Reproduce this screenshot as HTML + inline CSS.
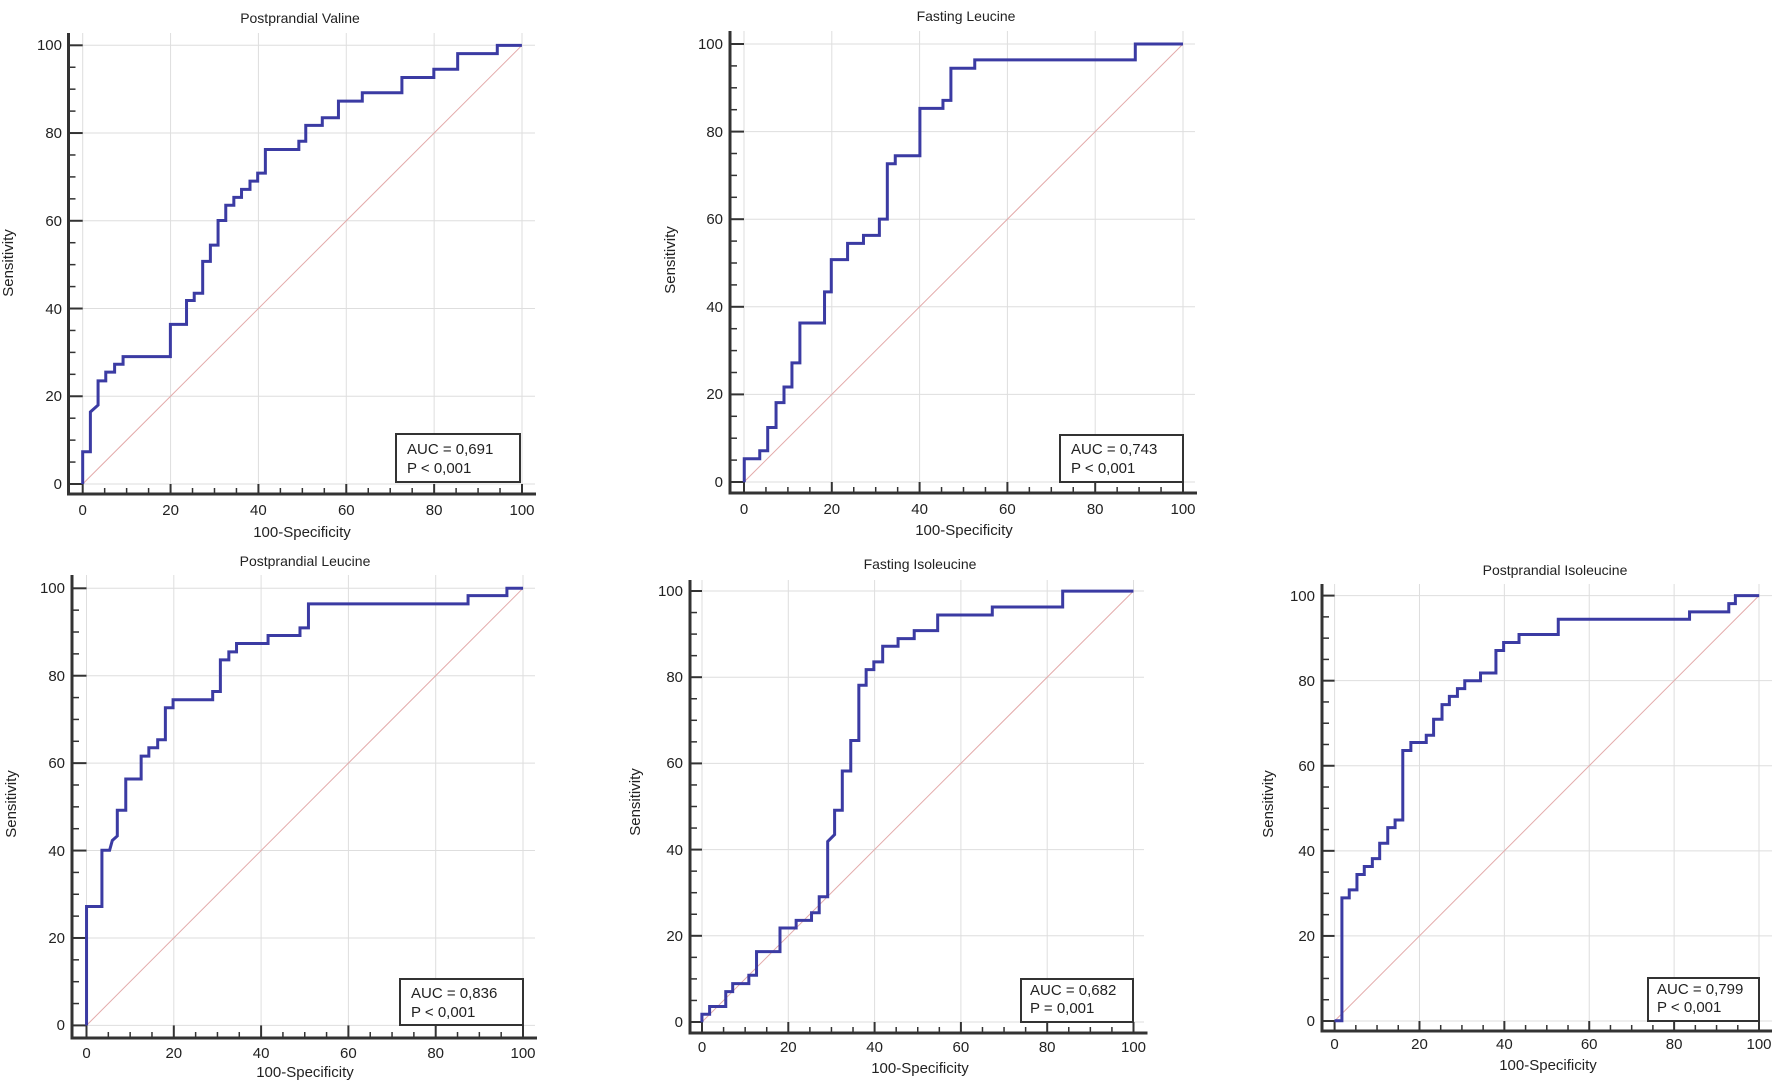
<!DOCTYPE html>
<html><head><meta charset="utf-8">
<style>
html,body{margin:0;padding:0;background:#fff;}
svg{display:block;}
text{font-family:"Liberation Sans",Arial,sans-serif;fill:#222;}
.t{font-size:14px;}
.n{font-size:15px;}
.a{font-size:15px;}
.b{font-size:15px;}
</style></head>
<body>
<svg id="s" width="1772" height="1082" viewBox="0 0 1772 1082" xmlns="http://www.w3.org/2000/svg">
<g id="lines"></g>
<!-- curves -->
<g fill="none" stroke="#3b3ba3" stroke-width="3" stroke-linejoin="miter">
<path transform="translate(0,0) scale(0.3846,0.3462)" vector-effect="non-scaling-stroke" d="M215,1398 V1305 H235 V1190 L255,1170 V1100 H275 V1075 H298 V1052 H320 V1030 H443 V937 H485 V868 H505 V847 H527 V755 H547 V708 H567 V637 H587 V593 H608 V570 H628 V547 H650 V523 H670 V500 H690 V432 H777 V408 H795 V362 H838 V340 H880 V292 H942 V268 H1045 V224 H1128 V200 H1190 V155 H1293 V131 H1357"/>
<path transform="translate(600,0) scale(0.3974,0.3462)" vector-effect="non-scaling-stroke" d="M363,1393 V1325 H402 V1302 H422 V1235 H443 V1163 H463 V1118 H483 V1048 H503 V933 H565 V843 H582 V750 H623 V703 H663 V680 H703 V633 H723 V473 H743 V450 H805 V313 H863 V290 H883 V197 H943 V173 H1347 V127 H1467"/>
<path transform="translate(0,540) scale(0.3846,0.3474)" vector-effect="non-scaling-stroke" d="M225,1397 V1055 H265 V893 H285 L292,865 L305,852 V778 H327 V688 H367 V622 H387 V598 H410 V575 H430 V483 H450 V460 H553 V436 H573 V345 H595 V322 H615 V298 H697 V275 H780 V253 H802 V184 H1217 V160 H1318 V139 H1360"/>
<path transform="translate(600,540) scale(0.3846,0.3474)" vector-effect="non-scaling-stroke" d="M265,1388 V1365 H285 V1343 H327 V1300 H345 V1277 H387 V1253 H407 V1185 H468 V1117 H510 V1095 H550 V1073 H570 V1027 H592 V868 L610,848 V778 H630 V665 H652 V577 H673 V418 H692 V373 H712 V351 H735 V306 H775 V284 H817 V261 H878 V216 H1020 V193 H1203 V147 H1387"/>
<path transform="translate(1200,540) scale(0.3667,0.3474)" vector-effect="non-scaling-stroke" d="M367,1384 H387 V1030 H407 V1007 H428 V963 H448 V940 H470 V917 H490 V873 H512 V828 H532 V806 H553 V606 H575 V583 H617 V562 H637 V516 H660 V474 H680 V450 H702 V428 H722 V405 H765 V383 H807 V318 H828 V295 H870 V272 H977 V228 H1335 V207 H1442 V183 H1460 V160 H1525"/>
</g>
<!-- AUC boxes -->
<g fill="#fff" stroke="#333" stroke-width="2">
<rect x="396" y="434" width="124" height="48"/>
<rect x="1060" y="435" width="123" height="47"/>
<rect x="400" y="979" width="123" height="46"/>
<rect x="1021" y="979" width="112" height="43"/>
<rect x="1648" y="978" width="111" height="43"/>
</g>
<g class="b">
<text x="407" y="454">AUC = 0,691</text><text x="407" y="473">P &lt; 0,001</text>
<text x="1071" y="454">AUC = 0,743</text><text x="1071" y="473">P &lt; 0,001</text>
<text x="411" y="998">AUC = 0,836</text><text x="411" y="1017">P &lt; 0,001</text>
<text x="1030" y="995">AUC = 0,682</text><text x="1030" y="1013">P = 0,001</text>
<text x="1657" y="994">AUC = 0,799</text><text x="1657" y="1012">P &lt; 0,001</text>
</g>
<!-- titles -->
<g class="t" text-anchor="middle">
<text x="300" y="23">Postprandial Valine</text>
<text x="966" y="21">Fasting Leucine</text>
<text x="305" y="566">Postprandial Leucine</text>
<text x="920" y="569">Fasting Isoleucine</text>
<text x="1555" y="575">Postprandial Isoleucine</text>
</g>
<!-- axis titles -->
<g class="a" text-anchor="middle">
<text x="302" y="537">100-Specificity</text>
<text x="964" y="535">100-Specificity</text>
<text x="305" y="1077">100-Specificity</text>
<text x="920" y="1073">100-Specificity</text>
<text x="1548" y="1070">100-Specificity</text>
<text transform="translate(13,263) rotate(-90)">Sensitivity</text>
<text transform="translate(675,260) rotate(-90)">Sensitivity</text>
<text transform="translate(16,804) rotate(-90)">Sensitivity</text>
<text transform="translate(640,802) rotate(-90)">Sensitivity</text>
<text transform="translate(1273,804) rotate(-90)">Sensitivity</text>
</g>
<!-- tick labels -->
<g class="n" text-anchor="end">
<text x="62" y="489">0</text><text x="62" y="401">20</text><text x="62" y="314">40</text><text x="62" y="226">60</text><text x="62" y="138">80</text><text x="62" y="50">100</text>
<text x="723" y="487">0</text><text x="723" y="399">20</text><text x="723" y="312">40</text><text x="723" y="224">60</text><text x="723" y="137">80</text><text x="723" y="49">100</text>
<text x="65" y="1030">0</text><text x="65" y="943">20</text><text x="65" y="856">40</text><text x="65" y="768">60</text><text x="65" y="681">80</text><text x="65" y="593">100</text>
<text x="683" y="1027">0</text><text x="683" y="941">20</text><text x="683" y="855">40</text><text x="683" y="768">60</text><text x="683" y="682">80</text><text x="683" y="596">100</text>
<text x="1315" y="1026">0</text><text x="1315" y="941">20</text><text x="1315" y="856">40</text><text x="1315" y="771">60</text><text x="1315" y="686">80</text><text x="1315" y="601">100</text>
</g>
<g class="n" text-anchor="middle">
<text x="82.7" y="515">0</text><text x="170.6" y="515">20</text><text x="258.4" y="515">40</text><text x="346.3" y="515">60</text><text x="434.1" y="515">80</text><text x="522" y="515">100</text>
<text x="744" y="514">0</text><text x="831.8" y="514">20</text><text x="919.6" y="514">40</text><text x="1007.4" y="514">60</text><text x="1095.2" y="514">80</text><text x="1183" y="514">100</text>
<text x="86.5" y="1058">0</text><text x="173.8" y="1058">20</text><text x="261.1" y="1058">40</text><text x="348.4" y="1058">60</text><text x="435.7" y="1058">80</text><text x="523" y="1058">100</text>
<text x="702" y="1052">0</text><text x="788.3" y="1052">20</text><text x="874.6" y="1052">40</text><text x="960.9" y="1052">60</text><text x="1047.2" y="1052">80</text><text x="1133.5" y="1052">100</text>
<text x="1334.6" y="1049">0</text><text x="1419.5" y="1049">20</text><text x="1504.4" y="1049">40</text><text x="1589.2" y="1049">60</text><text x="1674.1" y="1049">80</text><text x="1759" y="1049">100</text>
</g>
</svg>
<script>
(function(){
var P=[
{ax:68.5,ab:494,at:33,x0:82.7,x1:522,y0:484,y1:45.3,gr:535},
{ax:730,ab:493,at:31,x0:744,x1:1183,y0:482,y1:44,gr:1195},
{ax:72,ab:1038,at:575,x0:86.5,x1:523,y0:1025.4,y1:588.3,gr:535},
{ax:690,ab:1033,at:580,x0:702,x1:1133.5,y0:1022,y1:591,gr:1144},
{ax:1322,ab:1031,at:584,x0:1334.6,x1:1759,y0:1021,y1:595.6,gr:1772}
];
var ns="http://www.w3.org/2000/svg",g=document.getElementById('lines');
function L(x1,y1,x2,y2,c,w){var l=document.createElementNS(ns,'line');l.setAttribute('x1',x1);l.setAttribute('y1',y1);l.setAttribute('x2',x2);l.setAttribute('y2',y2);l.setAttribute('stroke',c);l.setAttribute('stroke-width',w);g.appendChild(l);}
P.forEach(function(p){
 for(var i=0;i<=5;i++){
  var x=p.x0+(p.x1-p.x0)*i/5, y=p.y0+(p.y1-p.y0)*i/5;
  L(x,p.at,x,p.ab,'#dedede',1);
  L(p.ax,y,p.gr,y,'#dedede',1);
 }
 L(p.x0,p.y0,p.x1,p.y1,'#e3aaaa',1);
 for(var k=0;k<=20;k++){
  var x=p.x0+(p.x1-p.x0)*k/20, y=p.y0+(p.y1-p.y0)*k/20, mj=(k%4==0);
  L(p.ax,y,mj?p.x0:p.ax+7,y,'#333',mj?2:1.5);
  L(x,p.ab,x,mj?p.y0:p.ab-6,'#333',mj?2:1.5);
 }
 L(p.ax,p.at,p.ax,p.ab+1.5,'#333',3);
 L(p.ax-1.5,p.ab,p.x1+14,p.ab,'#333',3);
});
})();
</script>
</body></html>
